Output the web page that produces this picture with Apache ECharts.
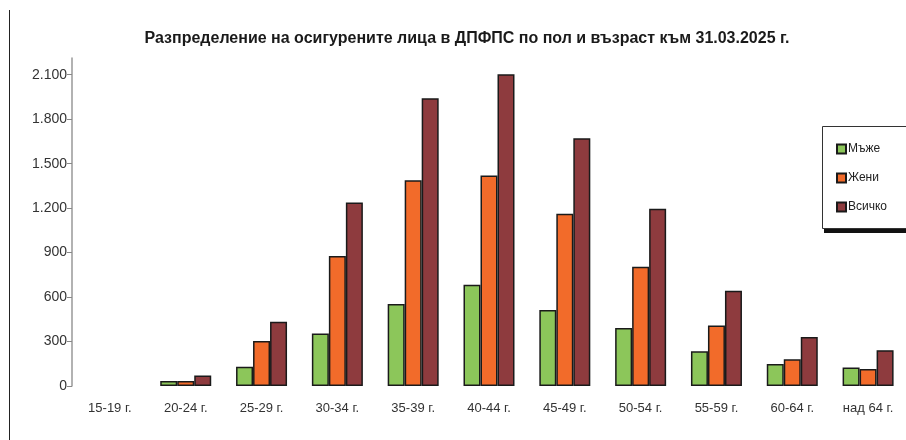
<!DOCTYPE html>
<html>
<head>
<meta charset="utf-8">
<script src="https://cdn.jsdelivr.net/npm/echarts@6/dist/echarts.min.js"></script>
<style>
html,body{margin:0;padding:0;background:#fff;}
#c{width:906px;height:440px;}
</style>
</head>
<body>
<div id="c"></div>
<script>
const titleText = 'Разпределение на осигурените лица в ДПФПС по пол и възраст към 31.03.2025 г.';
const categories = ['15-19 г.', '20-24 г.', '25-29 г.', '30-34 г.', '35-39 г.', '40-44 г.', '45-49 г.', '50-54 г.', '55-59 г.', '60-64 г.', 'над 64 г.'];
const seriesNames = ['Мъже', 'Жени', 'Всичко'];
const men   = [0, 34, 130, 355, 553, 683, 513, 391, 234, 148, 124];
const women = [0, 34, 303, 877, 1389, 1421, 1162, 805, 409, 180, 114];
const total = [0, 70, 434, 1238, 1942, 2104, 1672, 1196, 643, 331, 242];
const yTicks = [0, 300, 600, 900, 1200, 1500, 1800, 2100];

const colors = ['#8CC65A', '#F26B2A', '#8E3B3E'];
const font = "'Liberation Sans', Arial, sans-serif";

const chart = echarts.init(document.getElementById('c'), null, {renderer: 'canvas'});
const fmt = v => String(v).replace(/\B(?=(\d{3})+(?!\d))/g, '.');
const dataSets = [men, women, total];

chart.setOption({
  backgroundColor: '#ffffff',
  animation: false,
  title: {
    text: titleText,
    left: 462, top: 26, textAlign: 'center',
    textStyle: {fontFamily: font, fontSize: 16, fontWeight: 'bold', color: '#1a1a1a'}
  },
  legend: {
    orient: 'vertical',
    left: 822, top: 129,
    padding: [14, 40, 14, 14],
    itemWidth: 9, itemHeight: 9, itemGap: 17,
    icon: 'rect',
    z: 10,
    textStyle: {fontFamily: font, fontSize: 12, color: '#222', padding: [0, 0, 0, -3]},
    data: seriesNames
  },
  grid: {left: 72, right: -5, top: 58, bottom: 54},
  xAxis: {
    type: 'category',
    data: categories,
    axisLine: {show: false},
    axisTick: {show: false},
    axisLabel: {fontFamily: font, fontSize: 13, color: '#333', margin: 16}
  },
  yAxis: {
    type: 'value',
    min: 0, max: 2213,
    splitLine: {show: false},
    axisLine: {show: true, lineStyle: {color: '#999', width: 1.5}},
    axisTick: {show: true, length: 5, customValues: yTicks, lineStyle: {color: '#888'}},
    axisLabel: {fontFamily: font, fontSize: 14, color: '#333', margin: 5, customValues: yTicks, formatter: fmt}
  },
  series: seriesNames.map((n, i) => ({
    name: n,
    type: 'bar',
    data: dataSets[i].map(v => v === 0 ? {value: v, itemStyle: {borderWidth: 0}} : v),
    barWidth: 17,
    barGap: '0%',
    itemStyle: {color: colors[i], borderColor: '#1a1a1a', borderWidth: 1.5}
  })),
  graphic: [
    {
      type: 'line', z: 1,
      shape: {x1: 9.5, y1: 10, x2: 9.5, y2: 440},
      style: {stroke: '#222', lineWidth: 1}
    },
    {
      type: 'rect', z: 1,
      shape: {x: 824, y: 129, width: 90, height: 104},
      style: {fill: '#111'}
    },
    {
      type: 'rect', z: 2,
      shape: {x: 822.5, y: 126.5, width: 90, height: 102},
      style: {fill: '#fff', stroke: '#333', lineWidth: 1}
    }
  ]
});
</script>
</body>
</html>
